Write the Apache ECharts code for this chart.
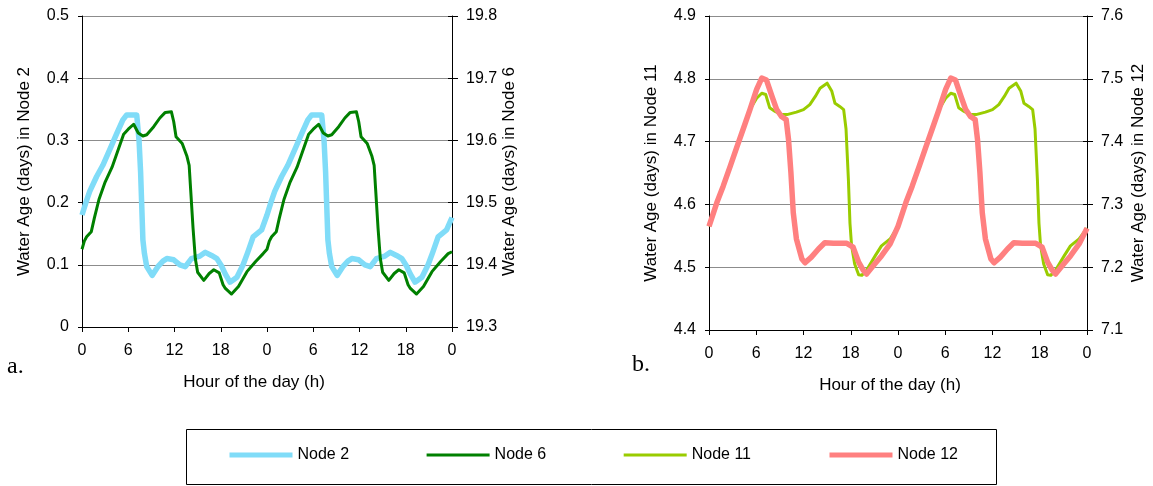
<!DOCTYPE html>
<html>
<head>
<meta charset="utf-8">
<script src="https://cdn.jsdelivr.net/npm/echarts@6/dist/echarts.min.js"></script>
<style>
  html, body { margin: 0; padding: 0; background: #ffffff; }
  #chart { width: 1153px; height: 486px; }
</style>
</head>
<body>
<div id="chart"></div>
<script>
// Hour of the day over two consecutive days (0–48 h); water age in days per node.
const node2Hours = [0, 0.5, 1.0, 1.9, 2.7, 3.6, 4.5, 5.3, 5.8, 7.1, 7.4, 7.6, 7.9, 8.1, 8.4, 9.1, 9.9, 10.5, 11.0, 11.9, 12.7, 13.4, 14.2, 15.3, 16.0, 16.8, 17.5, 18.1, 18.6, 19.2, 20.1, 20.9, 21.5, 22.2, 23.3,
  24.0, 24.5, 25.0, 25.9, 26.7, 27.6, 28.5, 29.3, 29.8, 31.1, 31.4, 31.6, 31.9, 32.1, 32.4, 33.1, 33.9, 34.5, 35.0, 35.9, 36.7, 37.4, 38.2, 39.3, 40.0, 40.8, 41.5, 42.1, 42.6, 43.2, 44.1, 44.9, 45.5, 46.2, 47.3, 48.0];
const node2Age = [0.180, 0.200, 0.218, 0.242, 0.260, 0.285, 0.311, 0.333, 0.341, 0.341, 0.300, 0.250, 0.140, 0.118, 0.097, 0.083, 0.098, 0.106, 0.110, 0.108, 0.100, 0.097, 0.110, 0.114, 0.120, 0.115, 0.110, 0.098, 0.085, 0.072, 0.080, 0.100, 0.120, 0.145, 0.156,
  0.180, 0.200, 0.218, 0.242, 0.260, 0.285, 0.311, 0.333, 0.341, 0.341, 0.300, 0.250, 0.140, 0.118, 0.097, 0.083, 0.098, 0.106, 0.110, 0.108, 0.100, 0.097, 0.110, 0.114, 0.120, 0.115, 0.110, 0.098, 0.085, 0.072, 0.080, 0.100, 0.120, 0.145, 0.156, 0.176];

const node6Hours = [0, 0.3, 0.6, 1.2, 1.6, 2.2, 3.0, 3.9, 4.75, 5.4, 6.0, 6.7, 7.3, 7.9, 8.4, 9.3, 10.1, 10.8, 11.6, 11.9, 12.2, 13.0, 13.6, 13.9, 14.1, 14.4, 14.7, 15.0, 15.8, 16.5, 17.1, 17.8, 18.3, 18.6, 19.4, 20.3, 21.4, 22.5, 23.5,
  24.0, 24.3, 24.6, 25.2, 25.6, 26.2, 27.0, 27.9, 28.75, 29.4, 30.0, 30.7, 31.3, 31.9, 32.4, 33.3, 34.1, 34.8, 35.6, 35.9, 36.2, 37.0, 37.6, 37.9, 38.1, 38.4, 38.7, 39.0, 39.8, 40.5, 41.1, 41.8, 42.3, 42.6, 43.4, 44.3, 45.4, 46.5, 47.5, 48.0];
const node6Age = [19.425, 19.438, 19.445, 19.453, 19.475, 19.505, 19.533, 19.557, 19.587, 19.610, 19.618, 19.626, 19.612, 19.607, 19.609, 19.622, 19.636, 19.645, 19.646, 19.630, 19.606, 19.595, 19.575, 19.560, 19.520, 19.460, 19.410, 19.388, 19.375, 19.386, 19.392, 19.387, 19.368, 19.362, 19.353, 19.365, 19.389, 19.405, 19.418,
  19.425, 19.438, 19.445, 19.453, 19.475, 19.505, 19.533, 19.557, 19.587, 19.610, 19.618, 19.626, 19.612, 19.607, 19.609, 19.622, 19.636, 19.645, 19.646, 19.630, 19.606, 19.595, 19.575, 19.560, 19.520, 19.460, 19.410, 19.388, 19.375, 19.386, 19.392, 19.387, 19.368, 19.362, 19.353, 19.365, 19.389, 19.405, 19.418, 19.421];

const node11Hours = [0, 1.0, 1.8, 2.7, 3.5, 4.4, 5.2, 6.05, 6.7, 7.2, 7.7, 8.4, 9.2, 9.9, 11.1, 12.0, 12.8, 13.5, 14.1, 15.0, 15.6, 16.0, 16.6, 17.1, 17.4, 17.7, 17.9, 18.1, 18.5, 19.0, 19.4, 20.0, 21.1, 21.9, 23.0,
  24.0, 25.0, 25.8, 26.7, 27.5, 28.4, 29.2, 30.05, 30.7, 31.2, 31.7, 32.4, 33.2, 33.9, 35.1, 36.0, 36.8, 37.5, 38.1, 39.0, 39.6, 40.0, 40.6, 41.1, 41.4, 41.7, 41.9, 42.1, 42.5, 43.0, 43.4, 44.0, 45.1, 45.9, 47.0, 48.0];
const node11Age = [4.565, 4.603, 4.629, 4.661, 4.690, 4.722, 4.751, 4.769, 4.777, 4.775, 4.754, 4.748, 4.743, 4.743, 4.747, 4.751, 4.759, 4.772, 4.785, 4.793, 4.780, 4.761, 4.756, 4.751, 4.720, 4.640, 4.570, 4.535, 4.505, 4.488, 4.487, 4.495, 4.518, 4.534, 4.545,
  4.565, 4.603, 4.629, 4.661, 4.690, 4.722, 4.751, 4.769, 4.777, 4.775, 4.754, 4.748, 4.743, 4.743, 4.747, 4.751, 4.759, 4.772, 4.785, 4.793, 4.780, 4.761, 4.756, 4.751, 4.720, 4.640, 4.570, 4.535, 4.505, 4.488, 4.487, 4.495, 4.518, 4.534, 4.545, 4.562];

const node12Hours = [0, 1.0, 1.8, 2.7, 3.5, 4.4, 5.2, 6.05, 6.7, 7.3, 8.0, 8.6, 9.2, 9.8, 10.1, 10.4, 10.7, 11.1, 11.8, 12.2, 13.0, 13.9, 14.7, 15.8, 17.5, 18.3, 19.0, 19.6, 20.0, 20.9, 21.9, 23.0,
  24.0, 25.0, 25.8, 26.7, 27.5, 28.4, 29.2, 30.05, 30.7, 31.3, 32.0, 32.6, 33.2, 33.8, 34.1, 34.4, 34.7, 35.1, 35.8, 36.2, 37.0, 37.9, 38.7, 39.8, 41.5, 42.3, 43.0, 43.6, 44.0, 44.9, 45.9, 47.0, 48.0];
const node12Age = [7.265, 7.303, 7.329, 7.361, 7.390, 7.422, 7.451, 7.483, 7.501, 7.498, 7.472, 7.451, 7.440, 7.435, 7.403, 7.351, 7.287, 7.245, 7.213, 7.207, 7.216, 7.229, 7.239, 7.238, 7.238, 7.232, 7.208, 7.195, 7.189, 7.203, 7.218, 7.237,
  7.265, 7.303, 7.329, 7.361, 7.390, 7.422, 7.451, 7.483, 7.501, 7.498, 7.472, 7.451, 7.440, 7.435, 7.403, 7.351, 7.287, 7.245, 7.213, 7.207, 7.216, 7.229, 7.239, 7.238, 7.238, 7.232, 7.208, 7.195, 7.189, 7.203, 7.218, 7.237, 7.262];

const seriesNames = ['Node 2', 'Node 6', 'Node 11', 'Node 12'];
const seriesColors = ['#80DCF8', '#008000', '#99CC00', '#FF8080'];
const seriesWidths = [5.5, 3, 3, 5.5];

const axisTitles = {
  hour: 'Hour of the day (h)',
  node2: 'Water Age (days) in Node 2',
  node6: 'Water Age (days) in Node 6',
  node11: 'Water Age (days) in Node 11',
  node12: 'Water Age (days) in Node 12'
};

const FONT = '"Liberation Sans", Arial, sans-serif';
const SERIF = '24px "Liberation Serif", "Times New Roman", serif';

function pairs(hours, values) {
  return hours.map((h, i) => [h, values[i]]);
}

function hourAxis(gridIndex, namePad) {
  return {
    type: 'value', gridIndex, min: 0, max: 48, interval: 6,
    axisLine: { show: true, onZero: false, lineStyle: { color: '#000', width: 1 } },
    axisTick: { show: true, length: 5, lineStyle: { color: '#000' } },
    axisLabel: { margin: 16, fontSize: 16, color: '#000', fontFamily: FONT, formatter: v => String(v % 24) },
    splitLine: { show: false },
    name: axisTitles.hour, nameLocation: 'middle', nameGap: 47,
    nameTextStyle: { fontSize: 17, color: '#000', fontFamily: FONT, padding: namePad }
  };
}

function ageAxis(gridIndex, position, min, max, name, nameGap, withGrid) {
  return {
    type: 'value', gridIndex, position, min, max, interval: 0.1,
    axisLine: { show: true, onZero: false, lineStyle: { color: '#000', width: 1 } },
    axisTick: { show: true, length: position === 'left' ? 4 : 6, lineStyle: { color: '#000' } },
    axisLabel: { margin: position === 'left' ? 13 : 14, fontSize: 16, color: '#000', fontFamily: FONT },
    splitLine: { show: withGrid, lineStyle: { color: '#8c8c8c', width: 1 } },
    name, nameLocation: 'middle', nameGap, nameRotate: 90,
    nameTextStyle: { fontSize: 17, color: '#000', fontFamily: FONT }
  };
}

// Secondary axes carry tick marks that cross to the inside of the plot
function innerTicks(gridIndex, min, max) {
  return {
    type: 'value', gridIndex, position: 'right', min, max, interval: 0.1,
    axisLine: { show: false, onZero: false },
    axisTick: { show: true, inside: true, length: 4, lineStyle: { color: '#000' } },
    axisLabel: { show: false },
    splitLine: { show: false }
  };
}

function lineSeries(idx, xAxisIndex, yAxisIndex, data) {
  return {
    name: seriesNames[idx], type: 'line', xAxisIndex, yAxisIndex, data,
    symbol: 'none', showSymbol: false, silent: true,
    lineStyle: { color: seriesColors[idx], width: seriesWidths[idx], join: 'round', cap: 'butt' },
    itemStyle: { color: seriesColors[idx] }
  };
}

const chart = echarts.init(document.getElementById('chart'), null, { renderer: 'canvas' });

chart.setOption({
  animation: false,
  backgroundColor: '#ffffff',
  textStyle: { fontFamily: FONT },
  grid: [
    { left: 82, top: 16, width: 370, height: 311 },
    { left: 709, top: 16, width: 378, height: 314 }
  ],
  xAxis: [hourAxis(0, [0, 26, 0, 0]), hourAxis(1, [0, 16, 0, 0])],
  yAxis: [
    ageAxis(0, 'left', 0, 0.5, axisTitles.node2, 49, true),
    ageAxis(0, 'right', 19.3, 19.8, axisTitles.node6, 28, false),
    innerTicks(0, 19.3, 19.8),
    ageAxis(1, 'left', 4.4, 4.9, axisTitles.node11, 49, true),
    ageAxis(1, 'right', 7.1, 7.6, axisTitles.node12, 43, false),
    innerTicks(1, 7.1, 7.6)
  ],
  legend: {
    left: 227, top: 447, padding: 0,
    itemWidth: 63, itemHeight: 2, itemGap: 76,
    selectedMode: false,
    textStyle: { fontSize: 16, color: '#000', fontFamily: FONT },
    data: seriesNames.map((n, i) => ({
      name: n,
      lineStyle: { width: seriesWidths[i] === 3 ? 3 : 5, cap: 'butt' }
    }))
  },
  graphic: [
    { type: 'rect', shape: { x: 186.5, y: 429.5, width: 810, height: 55 },
      style: { fill: 'none', stroke: '#000', lineWidth: 1 }, silent: true },
    { type: 'text', left: 7, top: 355, style: { text: 'a.', font: SERIF, fill: '#000' } },
    { type: 'text', left: 632, top: 353, style: { text: 'b.', font: SERIF, fill: '#000' } }
  ],
  series: [
    lineSeries(0, 0, 0, pairs(node2Hours, node2Age)),
    lineSeries(1, 0, 1, pairs(node6Hours, node6Age)),
    lineSeries(2, 1, 3, pairs(node11Hours, node11Age)),
    lineSeries(3, 1, 4, pairs(node12Hours, node12Age))
  ]
});
</script>
</body>
</html>
